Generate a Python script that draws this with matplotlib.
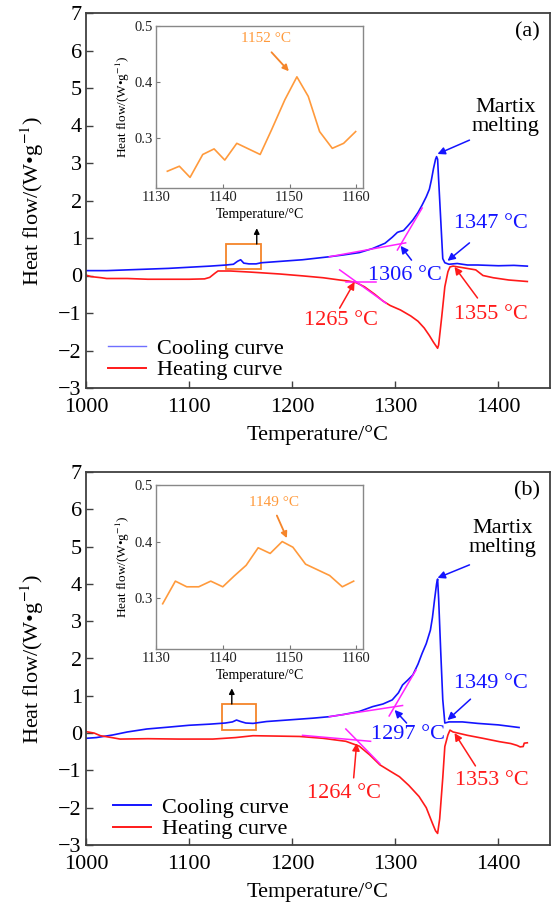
import matplotlib
matplotlib.use("Agg")
import matplotlib.pyplot as plt
from matplotlib.lines import Line2D
from matplotlib.patches import Rectangle

plt.rcParams['font.family'] = ['Liberation Serif', 'DejaVu Serif']
plt.rcParams['mathtext.fontset'] = 'stix'
plt.rcParams['axes.unicode_minus'] = True

# ---------------- data: panel (a) ----------------
a_cool_T = [1000, 1020, 1040, 1060, 1080, 1100, 1120, 1136, 1143, 1147, 1150, 1153, 1158, 1165,
            1170, 1190, 1210, 1236, 1250, 1265, 1278, 1290, 1297, 1302, 1304, 1308, 1312, 1317,
            1322, 1326, 1330, 1333, 1335, 1337, 1339, 1340, 1341, 1342, 1344, 1346, 1348, 1352,
            1360, 1370, 1380, 1400, 1415, 1428]
a_cool_y = [0.13, 0.13, 0.15, 0.17, 0.19, 0.22, 0.25, 0.28, 0.30, 0.38, 0.42, 0.33, 0.31, 0.31,
            0.34, 0.38, 0.42, 0.50, 0.55, 0.61, 0.72, 0.86, 1.02, 1.15, 1.17, 1.20, 1.32, 1.48,
            1.68, 1.88, 2.10, 2.30, 2.55, 2.85, 3.10, 3.17, 3.10, 2.55, 1.50, 0.45, 0.34, 0.30,
            0.32, 0.28, 0.28, 0.26, 0.27, 0.25]
a_heat_T = [1000, 1005, 1015, 1020, 1040, 1060, 1080, 1100, 1115, 1120, 1125, 1128, 1140, 1160,
            1188, 1210, 1230, 1246, 1255, 1262, 1270, 1280, 1288, 1295, 1305, 1315, 1322, 1328,
            1333, 1337, 1341, 1342, 1345, 1348, 1351, 1353, 1356, 1365, 1378, 1385, 1395, 1410, 1428]
a_heat_y = [0.01, -0.03, -0.06, -0.08, -0.08, -0.10, -0.10, -0.10, -0.09, -0.05, 0.06, 0.12, 0.12, 0.09,
            0.04, -0.01, -0.06, -0.12, -0.15, -0.19, -0.30, -0.50, -0.68, -0.80, -0.92, -1.08, -1.22, -1.40,
            -1.60, -1.78, -1.94, -1.85, -1.10, -0.30, 0.10, 0.23, 0.25, 0.21, 0.15, 0.00, -0.06, -0.12, -0.16]
a_tan_cool_base_T = [1236, 1310]
a_tan_cool_base_y = [0.50, 0.87]
a_tan_cool_steep_T = [1302, 1326]
a_tan_cool_steep_y = [0.68, 1.80]
a_tan_heat_base_T = [1252, 1281]
a_tan_heat_base_y = [-0.16, -0.16]
a_tan_heat_steep_T = [1246, 1291]
a_tan_heat_steep_y = [0.15, -0.74]
a_inset_T = [1131.7, 1133.5, 1135.1, 1137.0, 1138.7, 1140.3, 1142.1, 1145.6, 1147.3, 1149.3,
             1151.1, 1152.8, 1154.5, 1156.4, 1158.1, 1159.9]
a_inset_y = [0.240, 0.249, 0.229, 0.270, 0.280, 0.260, 0.290, 0.270, 0.314, 0.368,
             0.409, 0.374, 0.311, 0.281, 0.290, 0.311]

# ---------------- data: panel (b) ----------------
b_cool_T = [1000, 1010, 1026, 1040, 1059, 1080, 1100, 1120, 1135, 1142, 1146, 1150, 1155, 1162,
            1175, 1200, 1220, 1236, 1250, 1265, 1278, 1288, 1297, 1303, 1307, 1312, 1317, 1322,
            1326, 1330, 1334, 1336, 1338, 1340, 1341, 1342, 1344, 1346, 1348, 1352, 1365, 1380,
            1400, 1420]
b_cool_y = [-0.14, -0.12, -0.05, 0.03, 0.11, 0.16, 0.21, 0.24, 0.27, 0.30, 0.35, 0.31, 0.27, 0.26,
            0.31, 0.36, 0.40, 0.44, 0.50, 0.58, 0.71, 0.78, 0.89, 1.08, 1.29, 1.42, 1.56, 1.85,
            2.14, 2.40, 2.76, 3.10, 3.57, 4.00, 4.13, 3.60, 2.20, 0.90, 0.27, 0.30, 0.30, 0.26,
            0.22, 0.15]
b_heat_T = [1000, 1008, 1014, 1025, 1033, 1060, 1090, 1123, 1145, 1162, 1185, 1207, 1230, 1252,
            1265, 1275, 1285, 1295, 1304, 1313, 1323, 1330, 1336, 1339, 1341, 1343, 1346, 1348,
            1351, 1353, 1356, 1370, 1385, 1401, 1412, 1418, 1421, 1424, 1425, 1428]
b_heat_y = [0.04, 0.00, -0.07, -0.12, -0.16, -0.15, -0.16, -0.16, -0.12, -0.07, -0.08, -0.09, -0.14, -0.22,
            -0.35, -0.58, -0.85, -1.02, -1.17, -1.40, -1.70, -2.00, -2.42, -2.62, -2.69, -2.30, -1.20, -0.36,
            -0.05, 0.08, 0.03, -0.06, -0.14, -0.23, -0.28, -0.33, -0.37, -0.36, -0.27, -0.26]
b_tan_cool_base_T = [1236, 1307]
b_tan_cool_base_y = [0.44, 0.74]
b_tan_cool_steep_T = [1294, 1320]
b_tan_cool_steep_y = [0.46, 1.69]
b_tan_heat_base_T = [1210, 1276]
b_tan_heat_base_y = [-0.06, -0.22]
b_tan_heat_steep_T = [1252, 1285]
b_tan_heat_steep_y = [0.11, -0.82]
b_inset_T = [1131.0, 1132.9, 1134.6, 1136.4, 1138.2, 1140.0, 1141.7, 1143.5, 1145.3, 1147.1,
             1148.9, 1150.5, 1152.4, 1154.2, 1156.0, 1157.9, 1159.6]
b_inset_y = [0.290, 0.330, 0.320, 0.320, 0.330, 0.320, 0.339, 0.358, 0.389, 0.379,
             0.400, 0.390, 0.360, 0.350, 0.340, 0.320, 0.330]

x_ticks = [1000, 1100, 1200, 1300, 1400]
y_ticks = [-3, -2, -1, 0, 1, 2, 3, 4, 5, 6, 7]
inset_x_ticks = [1130, 1140, 1150, 1160]
inset_y_ticks = [0.3, 0.4, 0.5]

BLUE = '#1414ff'
RED = '#ff1a1a'
MAG = '#ff22ff'
ORANGE = '#ff9a3c'
ORANGE_D = '#f5852a'
SPINE = '#404040'
FS = 16

fig = plt.figure(figsize=(5.52, 9.11), dpi=100)

def main_axes(rect):
    ax = fig.add_axes(rect)
    ax.set_xlim(1000, 1450)
    ax.set_ylim(-3, 7)
    ax.set_xticks(x_ticks)
    ax.set_yticks(y_ticks)
    ax.tick_params(direction='in', length=5, width=1.0, labelsize=FS, colors=SPINE,
                   labelcolor='black')
    ax.tick_params(axis='x', pad=7)
    ax.tick_params(axis='y', pad=3)
    for s in ax.spines.values():
        s.set_color(SPINE)
        s.set_linewidth(1.3)
    ax.set_xlabel('Temperature/°C', fontsize=FS, labelpad=6)
    ax.set_ylabel('Heat flow/(W•g$^{-1}$)', fontsize=FS, labelpad=9)
    return ax

def inset_axes(rect):
    ax = fig.add_axes(rect)
    ax.set_xlim(1130, 1161)
    ax.set_ylim(0.21, 0.5)
    ax.set_xticks(inset_x_ticks)
    ax.set_yticks(inset_y_ticks)
    ax.set_yticklabels(['0.3', '0.4', '0.5'])
    ax.tick_params(direction='in', length=3, width=0.8, labelsize=10.5, pad=2, colors='#777777',
                   labelcolor='#222222')
    for s in ax.spines.values():
        s.set_color('#888888')
        s.set_linewidth(1.0)
    ax.set_xlabel('Temperature/°C', fontsize=10, labelpad=3)
    ax.set_ylabel('Heat flow/(W•g$^{-1}$)', fontsize=9.5, labelpad=2)
    return ax

def arrow(ax, xy, xytext, color, lw=1.1, ms=11):
    ax.annotate('', xy=xy, xytext=xytext,
                arrowprops=dict(arrowstyle='-|>', color=color, lw=lw, mutation_scale=ms,
                                shrinkA=0, shrinkB=0))

# ================= panel (a) =================
axa = main_axes([86/552, 1-388/911, 464/552, 375/911])
axa.plot(a_cool_T, a_cool_y, color=BLUE, lw=1.2)
axa.plot(a_heat_T, a_heat_y, color=RED, lw=1.2)
for T, y in [(a_tan_cool_base_T, a_tan_cool_base_y), (a_tan_cool_steep_T, a_tan_cool_steep_y),
             (a_tan_heat_base_T, a_tan_heat_base_y), (a_tan_heat_steep_T, a_tan_heat_steep_y)]:
    axa.plot(T, y, color=MAG, lw=1.1)
axa.add_patch(Rectangle((1136, 0.17), 34, 0.67, fill=False, edgecolor=ORANGE_D, lw=1.3))
arrow(axa, (1165.6, 1.26), (1165.6, 0.84), 'black', lw=1.0, ms=8)

axa.text(1406.8, 4.23, 'Martix\nmelting', fontsize=FS, ha='center', va='center', linespacing=0.95)
arrow(axa, (1340.9, 3.24), (1371.9, 3.61), BLUE)
axa.text(1440, 6.5, '(a)', fontsize=FS, ha='right', va='center')
axa.text(1393.2, 1.40, '1347 °C', fontsize=FS, color=BLUE, ha='center', va='center')
arrow(axa, (1350.6, 0.39), (1371.9, 0.87), BLUE)
axa.text(1309, 0.01, '1306 °C', fontsize=FS, color=BLUE, ha='center', va='center')
arrow(axa, (1305.1, 0.79), (1315.7, 0.41), BLUE)
axa.text(1247, -1.19, '1265 °C', fontsize=FS, color=RED, ha='center', va='center')
arrow(axa, (1260.5, -0.17), (1246, -0.87), RED)
axa.text(1393.2, -1.05, '1355 °C', fontsize=FS, color=RED, ha='center', va='center')
arrow(axa, (1357.4, 0.23), (1379.7, -0.60), RED)

ha = [Line2D([], [], color='#6f6fff', lw=1.0), Line2D([], [], color=RED, lw=1.4)]
axa.legend(ha, ['Cooling curve', 'Heating curve'], loc='lower left', bbox_to_anchor=(0.048, 0.02),
           frameon=False, fontsize=FS, handlelength=1.7, handletextpad=0.5, labelspacing=0.05,
           borderpad=0, borderaxespad=0)

ia = inset_axes([156/552, 1-188/911, 207/552, 162/911])
ia.plot(a_inset_T, a_inset_y, color=ORANGE, lw=1.2)
ia.text(1146.4, 0.477, '1152 °C', fontsize=11, color=ORANGE, ha='center', va='center')
arrow(ia, (1149.9, 0.419), (1147.3, 0.453), ORANGE_D, lw=1.3, ms=9)

# ================= panel (b) =================
axb = main_axes([86/552, 1-845/911, 464/552, 373/911])
axb.plot(b_cool_T, b_cool_y, color=BLUE, lw=1.2)
axb.plot(b_heat_T, b_heat_y, color=RED, lw=1.2)
for T, y in [(b_tan_cool_base_T, b_tan_cool_base_y), (b_tan_cool_steep_T, b_tan_cool_steep_y),
             (b_tan_heat_base_T, b_tan_heat_base_y), (b_tan_heat_steep_T, b_tan_heat_steep_y)]:
    axb.plot(T, y, color=MAG, lw=1.1)
axb.add_patch(Rectangle((1132, 0.08), 33, 0.70, fill=False, edgecolor=ORANGE_D, lw=1.3))
arrow(axb, (1141.4, 1.20), (1141.4, 0.78), 'black', lw=1.0, ms=8)

axb.text(1403.9, 5.23, 'Martix\nmelting', fontsize=FS, ha='center', va='center', linespacing=0.95)
arrow(axb, (1340.9, 4.16), (1371.9, 4.51), BLUE)
axb.text(1440, 6.49, '(b)', fontsize=FS, ha='right', va='center')
axb.text(1393.2, 1.32, '1349 °C', fontsize=FS, color=BLUE, ha='center', va='center')
arrow(axb, (1350.6, 0.35), (1372.9, 0.91), BLUE)
axb.text(1311.9, -0.05, '1297 °C', fontsize=FS, color=BLUE, ha='center', va='center')
arrow(axb, (1299.3, 0.62), (1310.9, 0.27), BLUE)
axb.text(1249.9, -1.61, '1264 °C', fontsize=FS, color=RED, ha='center', va='center')
arrow(axb, (1262.5, -0.27), (1259.6, -1.20), RED)
axb.text(1393.2, -1.28, '1353 °C', fontsize=FS, color=RED, ha='center', va='center')
arrow(axb, (1357.4, 0.0), (1377.7, -0.88), RED)

hb = [Line2D([], [], color=BLUE, lw=1.4), Line2D([], [], color=RED, lw=1.4)]
axb.legend(hb, ['Cooling curve', 'Heating curve'], loc='lower left', bbox_to_anchor=(0.058, 0.015),
           frameon=False, fontsize=FS, handlelength=1.7, handletextpad=0.5, labelspacing=0.05,
           borderpad=0, borderaxespad=0)

ib = inset_axes([156/552, 1-649/911, 207/552, 164/911])
ib.plot(b_inset_T, b_inset_y, color=ORANGE, lw=1.2)
ib.text(1147.6, 0.469, '1149 °C', fontsize=11, color=ORANGE, ha='center', va='center')
arrow(ib, (1149.6, 0.406), (1148.1, 0.446), ORANGE_D, lw=1.3, ms=9)

fig.savefig('out.png', dpi=100)
